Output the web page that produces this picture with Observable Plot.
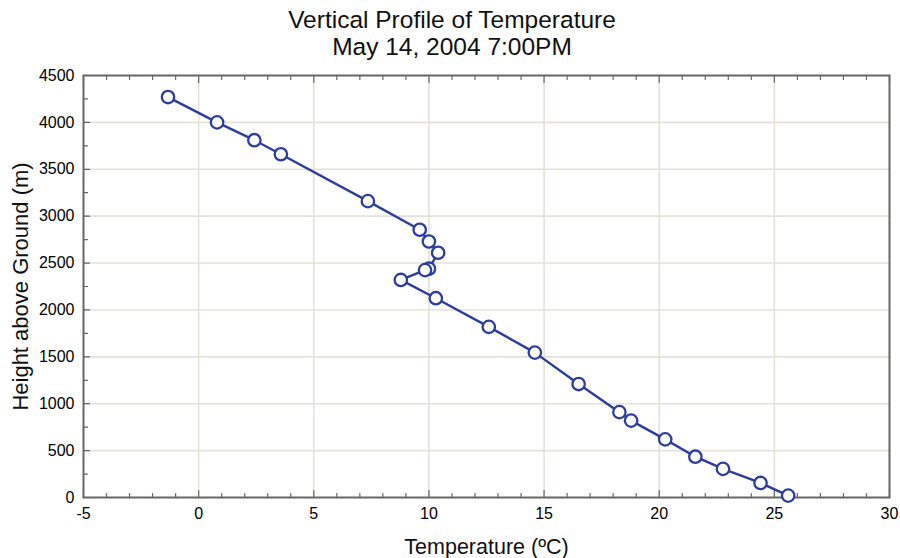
<!DOCTYPE html>
<html><head><meta charset="utf-8">
<script src="https://cdn.jsdelivr.net/npm/d3@7"></script>
<script src="https://cdn.jsdelivr.net/npm/@observablehq/plot@0.6"></script>
<style>
body{margin:0;background:#fff;font-family:"Liberation Sans",Arial,sans-serif;}
#title{width:900px;height:62px;text-align:center;font-size:24.5px;line-height:27px;padding-top:6px;padding-left:4px;box-sizing:border-box;color:#111;}
#chart svg{display:block;}
</style></head><body>
<div id="title"><div>Vertical Profile of Temperature</div><div>May 14, 2004 7:00PM</div></div>
<div id="chart"></div>
<script>
const temperature = [-1.33, 0.8, 2.42, 3.57, 7.35, 9.6, 10.0, 10.4, 10.0, 9.83, 8.78, 10.3, 12.6, 14.6, 16.5, 18.27, 18.78, 20.26, 21.57, 22.77, 24.4, 25.6];
const heightM     = [4270, 4000, 3810, 3660, 3160, 2855, 2730, 2610, 2440, 2425, 2320, 2125, 1820, 1545, 1210, 910, 820, 620, 435, 305, 155, 20];
const xTicks = [-5, 0, 5, 10, 15, 20, 25, 30];
const yTicks = [0, 500, 1000, 1500, 2000, 2500, 3000, 3500, 4000, 4500];
const xMinor = [-4,-3,-2,-1,1,2,3,4,6,7,8,9,11,12,13,14,16,17,18,19,21,22,23,24,26,27,28,29];
const yMinor = [250, 750, 1250, 1750, 2250, 2750, 3250, 3750, 4250];

const data = temperature.map((t, i) => ({t, h: heightM[i]}));
const blue = "#2c3d9e";
const frameColor = "#666";
const gridColor = "#e4e2d6";
const tickShape = {draw(ctx, l) { ctx.moveTo(0, 0); ctx.lineTo(0, -l); }};
const tickOpts = {shape: tickShape, anchor: "start", stroke: frameColor, strokeWidth: 1.2};

const chart = Plot.plot({
  width: 900,
  height: 496,
  marginTop: 13,
  marginBottom: 61,
  marginLeft: 83,
  marginRight: 11,
  style: {fontFamily: "'Liberation Sans', Arial, sans-serif", background: "#fff"},
  x: {domain: [-5, 30]},
  y: {domain: [0, 4500]},
  marks: [
    Plot.gridX(xTicks.slice(1, -1), {stroke: gridColor, strokeOpacity: 1, strokeWidth: 1.6}),
    Plot.gridY(yTicks.slice(1, -1), {stroke: gridColor, strokeOpacity: 1, strokeWidth: 1.6}),
    Plot.vector(xTicks, {x: d => d, frameAnchor: "bottom", length: 7, rotate: 0, ...tickOpts}),
    Plot.vector(xMinor, {x: d => d, frameAnchor: "bottom", length: 4, rotate: 0, ...tickOpts}),
    Plot.vector(xTicks, {x: d => d, frameAnchor: "top", length: 7, rotate: 180, ...tickOpts}),
    Plot.vector(xMinor, {x: d => d, frameAnchor: "top", length: 4, rotate: 180, ...tickOpts}),
    Plot.vector(yTicks, {y: d => d, frameAnchor: "left", length: 6, rotate: 90, ...tickOpts}),
    Plot.vector(yMinor, {y: d => d, frameAnchor: "left", length: 4, rotate: 90, ...tickOpts}),
    Plot.frame({stroke: frameColor, strokeWidth: 2}),
    Plot.axisX(xTicks, {tickSize: 0, tickPadding: 10, tickFormat: d => String(d), fontSize: 16, fill: "#000", label: null}),
    Plot.axisY(yTicks, {tickSize: 0, tickPadding: 9, tickFormat: d => String(d), fontSize: 16, fill: "#000", label: null}),
    Plot.line(data, {x: "t", y: "h", stroke: blue, strokeWidth: 2.4}),
    Plot.dot(data, {x: "t", y: "h", r: 6.2, fill: "#fff", stroke: blue, strokeWidth: 2.3}),
    Plot.text(["Temperature (ºC)"], {frameAnchor: "bottom", dy: 50, fontSize: 21.5, fill: "#111", textAnchor: "middle", lineAnchor: "middle"}),
    Plot.text(["Height above Ground (m)"], {frameAnchor: "left", dx: -63, rotate: -90, fontSize: 22, fill: "#111", textAnchor: "middle", lineAnchor: "middle"})
  ]
});
document.getElementById("chart").appendChild(chart);
</script>
</body></html>
